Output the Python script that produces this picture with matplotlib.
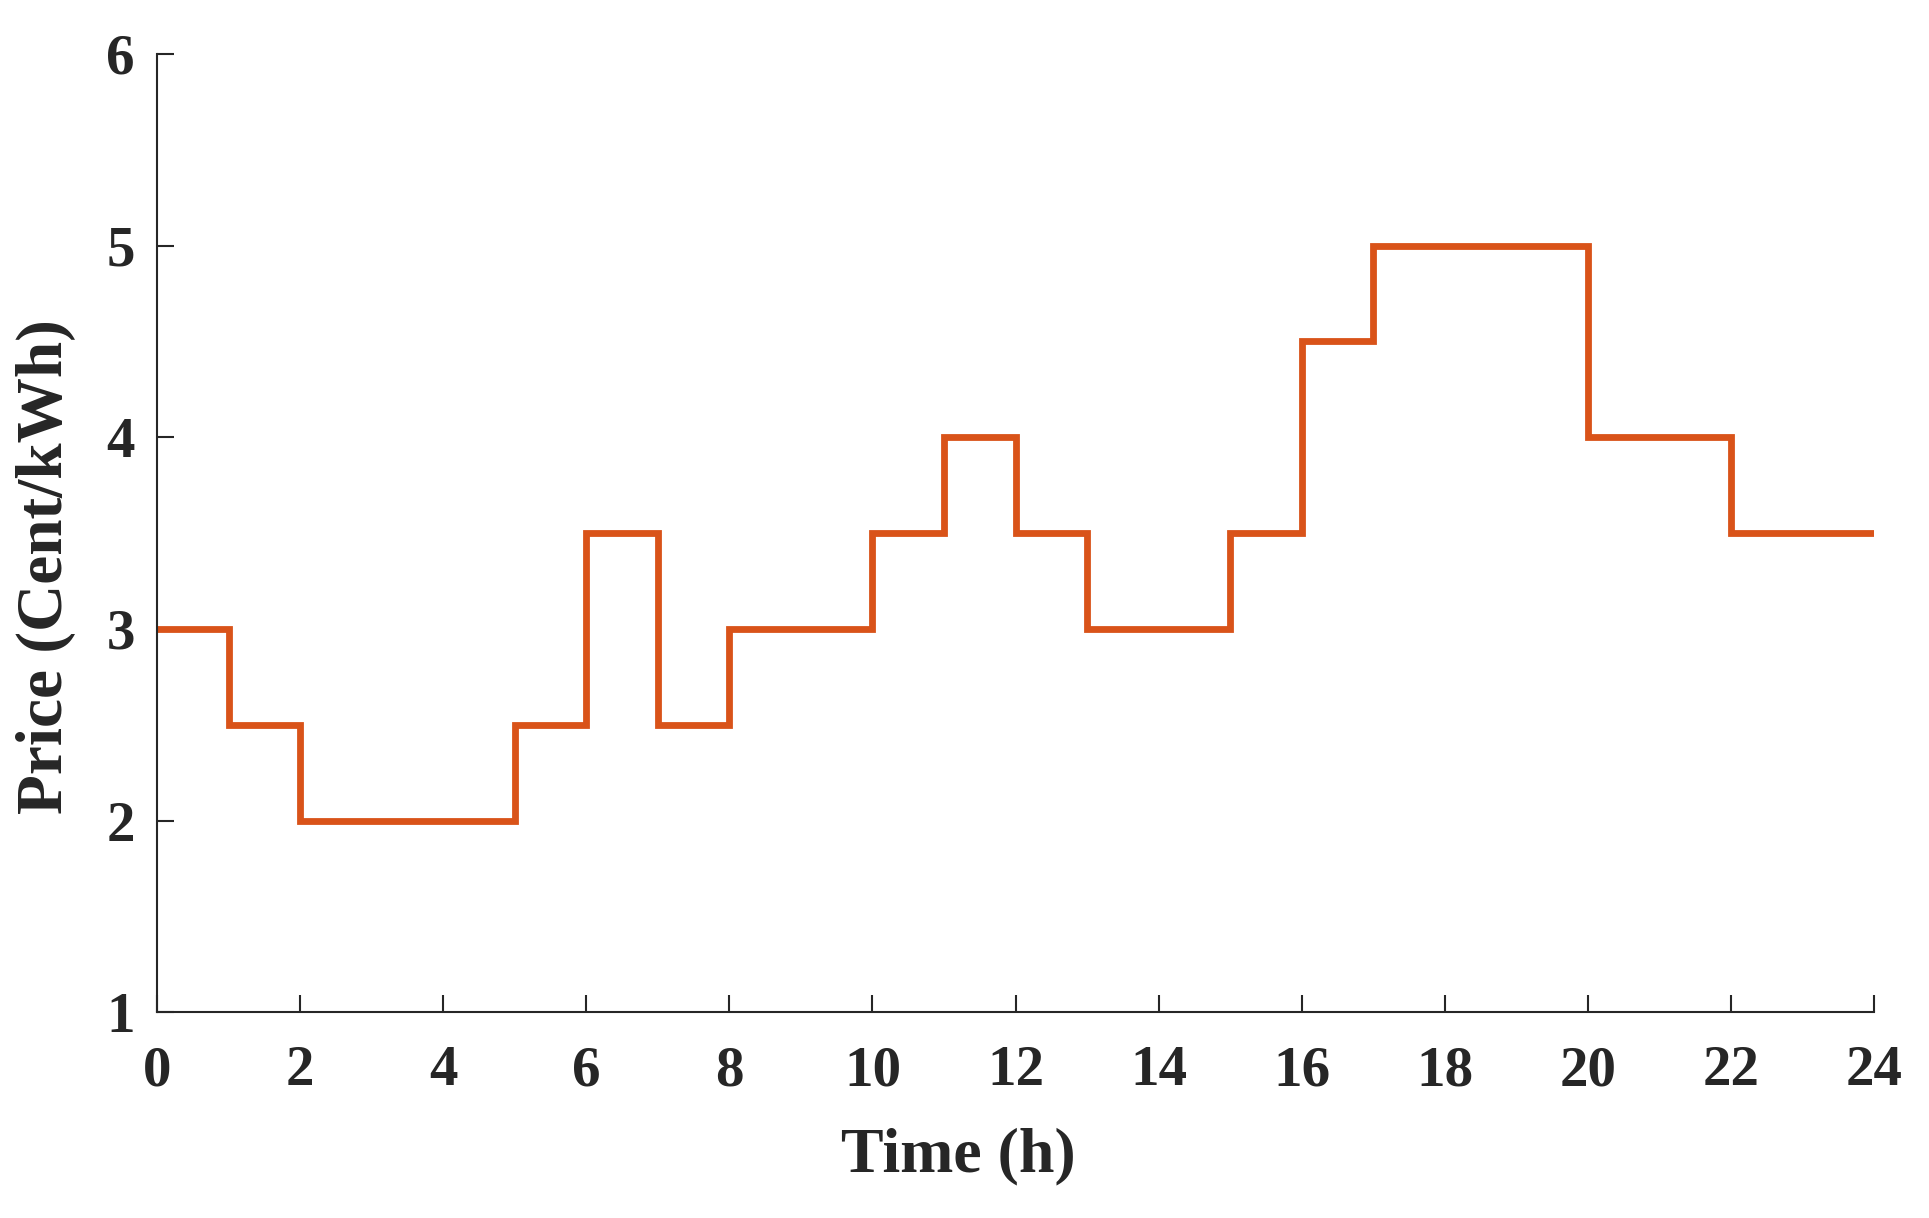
import matplotlib
matplotlib.use("Agg")
import matplotlib.pyplot as plt
import numpy as np

# hourly price (Cent/kWh), hour 0..23
hours = list(range(25))
price = [3, 2.5, 2, 2, 2, 2.5, 3.5, 2.5, 3, 3, 3.5, 4, 3.5, 3, 3, 3.5,
         4.5, 5, 5, 5, 4, 4, 3.5, 3.5]
xticks = list(range(0, 25, 2))
yticks = [1, 2, 3, 4, 5, 6]

plt.rcParams['font.family'] = ['Liberation Serif', 'DejaVu Serif']
plt.rcParams['font.weight'] = 'bold'

fig = plt.figure(figsize=(19.29, 12.18), dpi=100)
ax = fig.add_axes([0.0814, 0.169, 0.8901, 0.7867])

# repeat last value so the final hour gets drawn
ax.step(hours, price + [price[-1]], where='post', color='#D95319', lw=4.9,
        solid_joinstyle='miter')

ax.set_xlim(0, 24)
ax.set_ylim(1, 6)
ax.set_xticks(xticks)
ax.set_yticks(yticks)
ax.spines['top'].set_visible(False)
ax.spines['right'].set_visible(False)
for s in ['left', 'bottom']:
    ax.spines[s].set_linewidth(1.5)
    ax.spines[s].set_color('#262626')
ax.tick_params(direction='in', length=12, width=1.5, colors='#262626',
               labelsize=41)
ax.tick_params(axis='x', pad=24)
ax.tick_params(axis='y', pad=16)
for lab in ax.get_xticklabels() + ax.get_yticklabels():
    lab.set_fontweight('bold')

ax.set_xlabel('Time (h)', fontsize=46, fontweight='bold', color='#262626')
ax.set_ylabel('Price (Cent/kWh)', fontsize=47, fontweight='bold',
              color='#262626')
ax.xaxis.set_label_coords(0.4667, -0.12)
ax.yaxis.set_label_coords(-0.047, 0.465)

fig.savefig('out.png', dpi=100)
